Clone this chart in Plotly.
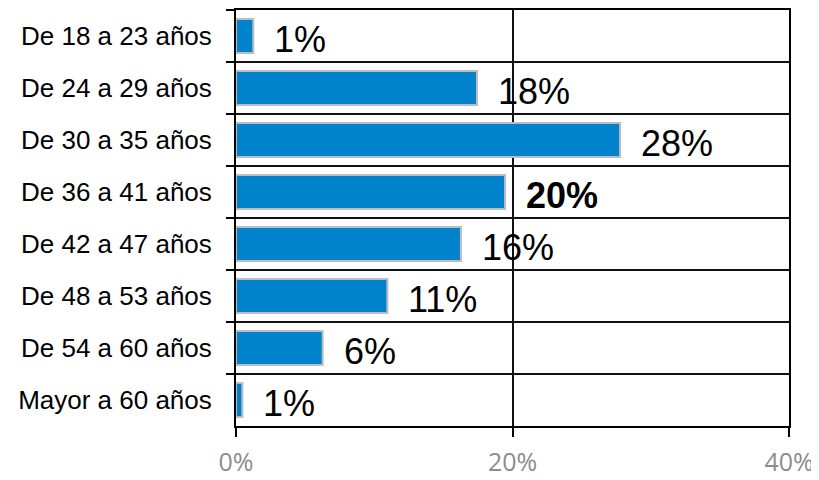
import plotly.graph_objects as go

categories = ["De 18 a 23 años", "De 24 a 29 años", "De 30 a 35 años", "De 36 a 41 años",
              "De 42 a 47 años", "De 48 a 53 años", "De 54 a 60 años", "Mayor a 60 años"]
values = [1.25, 17.43, 27.78, 19.46, 16.27, 10.95, 6.27, 0.46]
labels = ["1%", "18%", "28%", "20%", "16%", "11%", "6%", "1%"]
bold = [False, False, False, True, False, False, False, False]
x_ticks = [0, 20, 40]
x_tick_labels = ["0%", "20%", "40%"]

fig = go.Figure()
fig.add_trace(go.Bar(
    x=values, y=categories, orientation="h",
    marker=dict(color="#0083CC", line=dict(color="#BDBDBD", width=2)),
    hoverinfo="skip",
))

for v, c, t, b in zip(values, categories, labels, bold):
    fig.add_annotation(
        x=v, y=c, text=f"<b>{t}</b>" if b else t, showarrow=False,
        xanchor="left", yanchor="middle", xshift=19, yshift=-3,
        font=dict(family="Liberation Sans, Arial", size=36, color="black"),
    )

# page body has an 8px margin, so the figure is sized to fill the remaining window
fig.update_layout(
    width=811, height=472,
    margin=dict(l=228, r=30, t=2, b=54, autoexpand=False),
    paper_bgcolor="white", plot_bgcolor="white",
    showlegend=False, bargap=0.35,
    xaxis=dict(
        range=[0, 40], tickvals=x_ticks, ticktext=x_tick_labels,
        showgrid=True, gridcolor="#111111", gridwidth=2,
        zeroline=False, showline=True, linecolor="black", linewidth=2, mirror=True,
        ticks="outside", ticklen=9, tickwidth=2, tickcolor="black",
        tickfont=dict(family="Open Sans", size=25, color="#8C8C8C"),
        ticklabelstandoff=4, automargin=False,
        fixedrange=True,
    ),
    yaxis=dict(
        type="category", categoryorder="array", categoryarray=categories,
        autorange="reversed", tickson="boundaries",
        showgrid=True, gridcolor="#111111", gridwidth=2,
        showline=True, linecolor="black", linewidth=2, mirror=True,
        ticks="outside", ticklen=8, tickwidth=2, tickcolor="black",
        tickfont=dict(family="Liberation Sans, Arial", size=26, color="black"),
        ticklabelstandoff=17, automargin=False,
        fixedrange=True,
    ),
)

fig.write_html("out.html")
